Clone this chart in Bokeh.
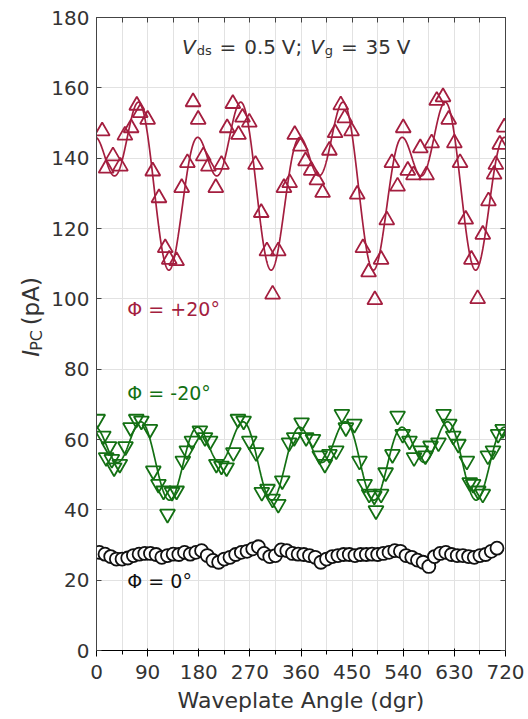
import numpy as np
from bokeh.plotting import figure
from bokeh.layouts import row
from bokeh.models import Range1d, FixedTicker, LinearAxis, Label
from bokeh.embed import file_html
from bokeh.resources import INLINE

# ---------------- data ----------------
red_angle = [10, 17, 29, 42, 50, 61, 71, 77, 90, 99, 110, 121, 128, 141, 150, 160, 170, 179,
             188, 197, 210, 220, 230, 240, 250, 257, 269, 280, 290, 300, 310, 320, 330, 340,
             349, 359, 368, 378, 388, 398, 410, 420, 430, 437, 449, 459, 469, 479, 490, 501,
             511, 520, 530, 540, 548, 558, 570, 581, 590, 599, 610, 620, 630, 640, 650, 660,
             671, 680, 690, 700, 703, 710, 718]
red_ipc = [147.7, 137.1, 140.6, 137.7, 146.5, 148.6, 155.0, 152.9, 151.0, 136.3, 128.7, 114.5,
           111.2, 110.8, 131.6, 138.7, 156.0, 151.0, 140.6, 137.7, 131.6, 138.2, 148.6, 155.5,
           146.7, 151.6, 150.2, 138.2, 124.5, 113.6, 101.3, 113.6, 131.6, 133.0, 146.7, 143.4,
           139.2, 136.5, 133.8, 130.2, 142.2, 147.2, 155.1, 151.4, 147.7, 129.7, 114.5, 107.6,
           99.7, 111.2, 122.4, 138.7, 132.0, 148.6, 136.5, 135.2, 142.9, 135.2, 144.3, 156.4,
           157.4, 151.0, 144.3, 138.7, 122.6, 111.2, 100.0, 118.3, 127.8, 135.4, 138.2, 143.9,
           148.8]

green_angle = [2, 12, 17, 22, 27, 31, 41, 51, 60, 70, 79, 94, 100, 109, 118, 125, 133, 141,
               152, 159, 168, 182, 191, 200, 211, 220, 229, 241, 249, 259, 269, 281, 291, 301,
               310, 320, 327, 339, 348, 361, 369, 381, 393, 402, 410, 422, 432, 439, 454, 463,
               472, 480, 489, 492, 501, 509, 521, 530, 539, 551, 559, 571, 579, 588, 602, 611,
               621, 628, 637, 652, 657, 663, 672, 680, 689, 698, 707, 715]
green_ipc = [65.8, 61.0, 54.9, 58.0, 54.4, 52.0, 53.0, 58.0, 63.4, 65.8, 65.3, 62.9, 51.1, 47.3,
             45.4, 38.8, 45.0, 45.4, 53.9, 56.8, 59.6, 62.5, 60.6, 59.6, 53.0, 52.5, 52.0, 56.3,
             65.8, 65.3, 59.6, 56.3, 45.0, 45.9, 43.1, 41.6, 48.3, 59.1, 60.6, 64.8, 60.6, 60.1,
             55.4, 53.0, 55.8, 56.8, 67.2, 63.4, 64.4, 53.9, 47.3, 44.5, 44.0, 39.8, 44.5, 50.6,
             55.8, 66.7, 61.5, 59.6, 54.9, 56.8, 55.4, 58.2, 59.1, 67.2, 64.4, 61.0, 58.7, 53.9,
             47.8, 47.3, 45.4, 44.5, 55.4, 56.8, 61.5, 62.9]

zero_angle = [5, 15, 25, 35, 45, 55, 65, 75, 85, 95, 105, 115, 125, 135, 145, 155, 165, 175,
              185, 195, 205, 215, 225, 235, 245, 255, 265, 275, 285, 295, 305, 315, 325, 335,
              345, 355, 365, 375, 385, 395, 405, 415, 425, 435, 445, 455, 465, 475, 485, 495,
              505, 515, 525, 535, 545, 555, 565, 575, 585, 595, 605, 615, 625, 635, 645, 655,
              665, 675, 685, 695, 705]
zero_ipc = [27.9, 27.4, 26.7, 26.0, 26.0, 26.3, 27.0, 27.4, 27.6, 27.6, 27.3, 26.5, 27.0, 27.4,
            27.3, 27.9, 27.4, 27.9, 28.4, 27.0, 25.6, 25.1, 26.0, 26.5, 27.3, 27.9, 28.2, 28.9,
            29.5, 27.6, 26.7, 27.0, 28.6, 28.4, 27.6, 27.4, 27.3, 27.0, 26.5, 25.1, 26.0, 26.7,
            27.0, 27.3, 27.3, 27.0, 27.3, 27.3, 27.4, 27.3, 27.6, 27.9, 28.4, 28.2, 27.0, 26.5,
            25.7, 25.1, 23.9, 26.7, 27.6, 27.9, 27.3, 27.0, 27.0, 26.7, 26.5, 27.0, 27.3, 28.2,
            29.1]

x_ticks = [0, 90, 180, 270, 360, 450, 540, 630, 720]
x_minor = [45, 135, 225, 315, 405, 495, 585, 675]
y_ticks = [0, 20, 40, 60, 80, 100, 120, 140, 160, 180]

labels = ["\u03a6 = +20\u00b0", "\u03a6 = -20\u00b0", "\u03a6 = 0\u00b0"]


# ---------------- fit (least squares on the read data) ----------------
def harmonic_fit(ang, val, grid):
    t = np.radians(np.asarray(ang, float))
    g = np.radians(grid)

    def basis(a):
        return np.column_stack([np.ones_like(a), np.cos(2 * a), np.sin(2 * a),
                                np.cos(4 * a), np.sin(4 * a)])
    coef, *_ = np.linalg.lstsq(basis(t), np.asarray(val, float), rcond=None)
    return basis(g) @ coef


grid = np.linspace(0, 720, 1441)
red_fit = harmonic_fit(red_angle, red_ipc, grid)
green_fit = harmonic_fit(green_angle, green_ipc, grid)

# ---------------- style ----------------
RED = "#A41E3F"
GREEN = "#137013"
BLACK = "#111111"
FONT = "DejaVu Sans"
TXT = "#333333"
FRAME = "#444444"
GRID = "#E2E2E2"

H = 719
SW = 48                      # width of the strip holding the y-axis title
W = 528 - SW
L, R, T, B = 94 - SW, 23, 17, 69
FW, FH = W - L - R, H - T - B

p = figure(width=W, height=H, x_range=Range1d(0, 720), y_range=Range1d(0, 180),
           output_backend="svg", toolbar_location=None,
           min_border_left=L, min_border_right=R, min_border_top=T, min_border_bottom=B)
p.background_fill_color = "white"
p.border_fill_color = "white"
p.outline_line_color = FRAME
p.outline_line_width = 1

xt = FixedTicker(ticks=x_ticks, minor_ticks=x_minor)
yt = FixedTicker(ticks=y_ticks)

for ax in p.xaxis:
    ax.ticker = xt
    ax.axis_label = "Waveplate Angle (dgr)"
    ax.axis_label_text_font = FONT
    ax.axis_label_text_font_size = "22px"
    ax.axis_label_text_font_style = "normal"
    ax.axis_label_text_color = TXT
    ax.axis_label_standoff = 6
    ax.major_label_text_font = FONT
    ax.major_label_text_font_size = "20px"
    ax.major_label_text_color = TXT
    ax.major_label_standoff = 8
for ax in p.yaxis:
    ax.ticker = yt
    ax.major_label_text_font = FONT
    ax.major_label_text_font_size = "20px"
    ax.major_label_text_color = TXT
    ax.major_label_standoff = 7

top = LinearAxis(ticker=xt, major_label_text_font_size="0px", major_label_text_color=None,
                 major_label_standoff=0)
right = LinearAxis(ticker=yt, major_label_text_font_size="0px", major_label_text_color=None,
                   major_label_standoff=0)
p.add_layout(top, "above")
p.add_layout(right, "right")

for ax in [p.xaxis[0], p.yaxis[0], top, right]:
    ax.axis_line_color = FRAME
    ax.major_tick_line_color = FRAME
    ax.minor_tick_line_color = FRAME
    ax.major_tick_in = 5
    ax.major_tick_out = 0
    ax.minor_tick_in = 5
    ax.minor_tick_out = 0

p.xgrid.ticker = xt
p.ygrid.ticker = yt
p.xgrid.grid_line_color = GRID
p.xgrid.minor_grid_line_color = GRID
p.ygrid.grid_line_color = GRID

# ---------------- glyphs ----------------
p.line(grid, red_fit, line_color=RED, line_width=1.7)
p.line(grid, green_fit, line_color=GREEN, line_width=1.7)
p.scatter(zero_angle, zero_ipc, marker="circle", size=13, fill_color="white",
          line_color=BLACK, line_width=1.8)
p.scatter(green_angle, green_ipc, marker="inverted_triangle", size=15, fill_color=None,
          line_color=GREEN, line_width=1.8)
p.scatter(red_angle, red_ipc, marker="triangle", size=15, fill_color=None,
          line_color=RED, line_width=1.8)

# ---------------- strip figure (no axes) for the rotated y-axis title ----------------
strip = figure(width=SW, height=H, x_range=Range1d(0, SW), y_range=Range1d(0, H),
               x_axis_type=None, y_axis_type=None,
               output_backend="svg", toolbar_location=None,
               min_border_left=0, min_border_right=0, min_border_top=0, min_border_bottom=0)
strip.grid.visible = False
strip.outline_line_color = None
strip.background_fill_color = "white"
strip.border_fill_color = "white"


# ---------------- text annotations ----------------
def main_xy(px, py):
    return (px - 94) * 720.0 / FW, (H - B - py) * 180.0 / FH


def strip_xy(px, py):
    return px, H - py


ADV = {' ': 0.318, '=': 0.838, '.': 0.318, ';': 0.337, 'V': 0.684, 'd': 0.635, 's': 0.521,
       'g': 0.635, 'I': 0.295, 'P': 0.603, 'C': 0.698, '(': 0.390, ')': 0.390, 'p': 0.635,
       'A': 0.684}


def adv(s, size):
    return sum(ADV.get(c, 0.636) for c in s) * size


def place(fig, conv, runs, x0, y0, vertical=False, color=TXT):
    cur = 0.0
    for text, size, style, shift, gap in runs:
        cur += gap
        w = adv(text, size)
        if vertical:
            # centre-anchored so that the rotation cannot move the piece
            sx, sy = x0 + shift - 0.35 * size, y0 - cur - w / 2
            dx, dy = conv(sx, sy)
            fig.add_layout(Label(x=dx, y=dy, text=text, angle=np.pi / 2,
                                 text_font=FONT, text_font_size=f"{size}px",
                                 text_font_style=style, text_color=color,
                                 text_align="center", text_baseline="middle"))
        else:
            dx, dy = conv(x0 + cur, y0 + shift)
            fig.add_layout(Label(x=dx, y=dy, text=text,
                                 text_font=FONT, text_font_size=f"{size}px",
                                 text_font_style=style, text_color=color,
                                 text_align="left", text_baseline="alphabetic"))
        cur += w


# title: (text, size, style, baseline shift, gap before)
place(p, main_xy,
      [("V", 20, "italic", 0, 0), ("ds", 13, "normal", 4, 1), ("=", 20, "normal", 0, 8),
       ("0.5", 20, "normal", 0, 8), ("V;", 20, "normal", 0, 6), ("V", 20, "italic", 0, 8),
       ("g", 13, "normal", 4, 1), ("=", 20, "normal", 0, 8), ("35", 20, "normal", 0, 8),
       ("V", 20, "normal", 0, 6)],
      180, 46)

place(strip, strip_xy,
      [("I", 23, "italic", 0, 0), ("PC", 16, "normal", 3, 1), ("(pA)", 23, "normal", 0, 10)],
      39, 385, vertical=True)

for txt, col, yy in zip(labels, [RED, GREEN, BLACK], [308, 392, 580]):
    lx, ly = main_xy(125, yy)
    p.add_layout(Label(x=lx, y=ly, text=txt, text_font=FONT,
                       text_font_size="19px", text_color=col, text_align="left",
                       text_baseline="middle"))

layout = row(strip, p, spacing=0)
open("out.html", "w").write(file_html(layout, INLINE))
